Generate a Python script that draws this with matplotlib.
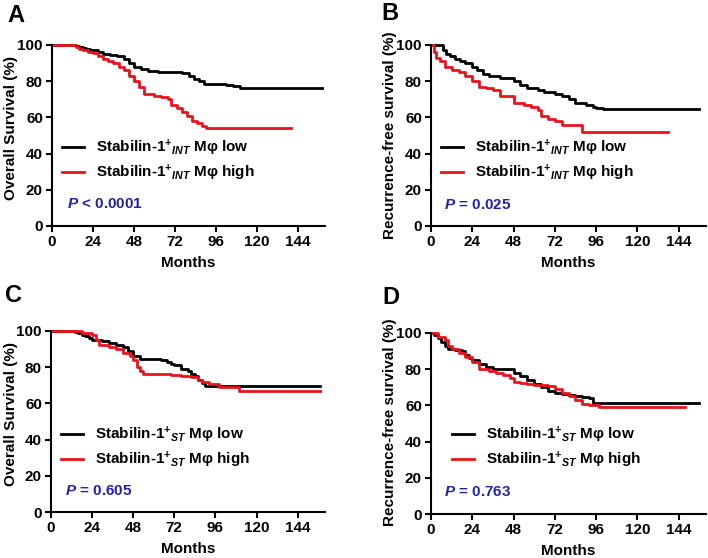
import matplotlib
matplotlib.use("Agg")
import matplotlib.pyplot as plt

plt.rcParams.update({
    "font.family": ["Liberation Sans", "DejaVu Sans"],
    "font.weight": "bold",
    "mathtext.fontset": "custom",
    "mathtext.rm": "Liberation Sans:bold",
    "mathtext.it": "Liberation Sans:italic:bold",
    "mathtext.bf": "Liberation Sans:bold",
    "mathtext.sf": "Liberation Sans:bold",
})

# ---------------- data ----------------
x_ticks = [0, 24, 48, 72, 96, 120, 144]
y_ticks = [0, 20, 40, 60, 80, 100]

a_low_t = [0, 14, 16, 18, 20, 22, 24, 27, 30, 34, 38, 42, 45, 48, 52, 56, 62, 70, 76, 80, 83, 86, 89, 96, 102, 106, 110, 158]
a_low_s = [100, 99.5, 99, 98.5, 98, 97.5, 97, 96, 95, 94.5, 94, 92, 90, 88, 86.5, 85.5, 85, 85, 84.5, 83, 81, 80, 78.5, 78.5, 78, 77.5, 76, 76]
a_high_t = [0, 14, 16, 18, 21, 24, 27, 30, 33, 36, 39, 42, 45, 48, 51, 54, 60, 64, 68, 70, 73, 76, 79, 82, 85, 88, 90, 140]
a_high_s = [100, 99, 98, 97, 96, 95.5, 94, 92, 91, 90, 88, 86, 83, 80, 77, 73, 72, 71, 70, 67, 65, 63, 61, 58, 57, 55, 54, 54]

b_low_t = [0, 7, 9, 11, 14, 17, 20, 24, 27, 30, 34, 40, 44, 48, 52, 56, 62, 66, 72, 76, 80, 84, 90, 94, 96, 100, 156]
b_low_s = [100, 97, 95, 94, 92, 91, 90, 88, 86, 84, 83, 82, 82, 80, 78, 76, 75, 74, 73, 72, 70, 68, 67, 66, 65, 64.5, 64.5]
b_high_t = [0, 2, 3, 5, 8, 12, 16, 20, 24, 28, 32, 36, 40, 44, 48, 54, 58, 62, 64, 68, 72, 76, 82, 88, 138]
b_high_s = [100, 96, 93, 91, 88, 86, 85, 83, 80, 77, 76, 75, 72, 72, 68, 67, 66, 64, 61, 59, 58, 56, 56, 52, 52]

c_low_t = [0, 14, 16, 18, 20, 22, 24, 30, 34, 38, 42, 45, 48, 52, 60, 64, 68, 70, 72, 76, 80, 82, 84, 86, 88, 90, 157]
c_low_s = [100, 99.5, 99, 98, 97, 96, 95, 94.5, 93.5, 92.5, 91, 89, 86, 84.5, 84.5, 84, 83, 82, 81, 79, 78, 76, 75, 73, 71, 69.5, 69.5]
c_high_t = [0, 18, 24, 26, 28, 34, 38, 42, 46, 48, 50, 52, 54, 64, 70, 76, 82, 86, 88, 92, 98, 110, 157]
c_high_s = [100, 99, 98, 95, 92, 91, 90, 88, 86, 84, 80, 78, 76, 76, 75.5, 75, 74.5, 73, 72, 70.5, 69, 67, 67]

d_low_t = [0, 2, 4, 6, 8, 10, 14, 18, 20, 22, 24, 28, 32, 36, 44, 48, 52, 56, 60, 64, 68, 72, 76, 80, 84, 88, 92, 94, 156]
d_low_s = [100, 99, 97, 95, 93, 91, 90.5, 90, 88, 86, 85, 83, 81, 80, 80, 78, 76, 74, 72, 70, 68, 67, 66.5, 66, 65, 64.5, 64, 61.5, 61.5]
d_high_t = [0, 4, 8, 10, 12, 16, 20, 24, 28, 34, 38, 42, 46, 48, 52, 56, 60, 64, 68, 72, 76, 80, 84, 88, 92, 98, 148]
d_high_s = [100, 98, 96, 93, 91, 89, 87, 84, 80, 79, 78, 77, 75, 73, 72.5, 72, 71.5, 71, 70.5, 69, 67, 65, 63, 61, 60, 59, 59]

labels_int = [r"Stabilin-1$^{+}$$_{INT}$ Mφ low", r"Stabilin-1$^{+}$$_{INT}$ Mφ high"]
labels_st = [r"Stabilin-1$^{+}$$_{ST}$ Mφ low", r"Stabilin-1$^{+}$$_{ST}$ Mφ high"]
p_texts = [r"$P$ < 0.0001", r"$P$ = 0.025", r"$P$ = 0.605", r"$P$ = 0.763"]
ylabels = ["Overall Survival (%)", "Recurrence-free survival (%)",
           "Overall Survival (%)", "Recurrence-free survival (%)"]
letters = ["A", "B", "C", "D"]

# ---------------- layout ----------------
W, H = 708, 558
fig = plt.figure(figsize=(W / 100, H / 100), dpi=100)

def fx(px):
    return px / W

def fy(py):
    return 1 - py / H

# axes pixel boxes: left, right, top(100), bottom(0)
boxes = [(52, 325, 45, 226), (431, 706, 45, 226), (51, 325, 331, 512), (431, 706, 333, 514)]
legend_pos = [(62, 160), (441, 160), (61, 447), (452, 447)]
p_pos = [(67, 204), (444, 205), (65, 491), (444, 492)]
letter_pos = [(7, 22), (381, 20), (5, 302), (382, 304)]
ylabel_right = [18, 397, 18, 397]
ylabel_center = [0.54, 0.50, 0.54, 0.51]

series = [
    (a_low_t, a_low_s, a_high_t, a_high_s, labels_int),
    (b_low_t, b_low_s, b_high_t, b_high_s, labels_int),
    (c_low_t, c_low_s, c_high_t, c_high_s, labels_st),
    (d_low_t, d_low_s, d_high_t, d_high_s, labels_st),
]

RED = "#e8141c"
BLUE = "#2323a8"

for i, (l, r, t, b) in enumerate(boxes):
    ax = fig.add_axes([fx(l), fy(b), fx(r) - fx(l), fy(t) - fy(b)])
    lt, ls, ht, hs, labs = series[i]
    ax.step(lt, ls, where="post", color="black", lw=2.0, label=labs[0], clip_on=False)
    ax.step(ht, hs, where="post", color=RED, lw=2.0, label=labs[1], clip_on=False)
    ax.set_xlim(0, 160)
    ax.set_ylim(0, 100)
    ax.set_xticks(x_ticks)
    ax.set_yticks(y_ticks)
    for s in ["top", "right"]:
        ax.spines[s].set_visible(False)
    for s in ["left", "bottom"]:
        ax.spines[s].set_linewidth(1.5)
    ax.tick_params(axis="both", direction="out", length=4, width=1.5, labelsize=11, pad=2.5)
    for lab in ax.get_xticklabels() + ax.get_yticklabels():
        lab.set_fontweight("bold")
    ax.set_xlabel("Months", fontsize=11, fontweight="bold")
    ax.xaxis.set_label_coords(0.5, -30 / (b - t))
    ax.set_ylabel(ylabels[i], fontsize=11, fontweight="bold")
    ax.yaxis.set_label_coords((ylabel_right[i] - l) / (r - l), ylabel_center[i])

    lx, ly = legend_pos[i]
    ax.legend(loc="center left", bbox_to_anchor=(fx(lx), fy(ly)), bbox_transform=fig.transFigure,
              frameon=False, handlelength=1.45, handletextpad=0.8,
              labelspacing=0.3, borderpad=0, borderaxespad=0,
              prop={"weight": "bold", "size": 11})

    px_, py_ = p_pos[i]
    fig.text(fx(px_), fy(py_), p_texts[i], color=BLUE, fontsize=11, fontweight="bold",
             ha="left", va="center")

    lx2, ly2 = letter_pos[i]
    fig.text(fx(lx2), fy(ly2), letters[i], fontsize=17, fontweight="bold", ha="left", va="baseline")

fig.savefig("out.png", dpi=100)
